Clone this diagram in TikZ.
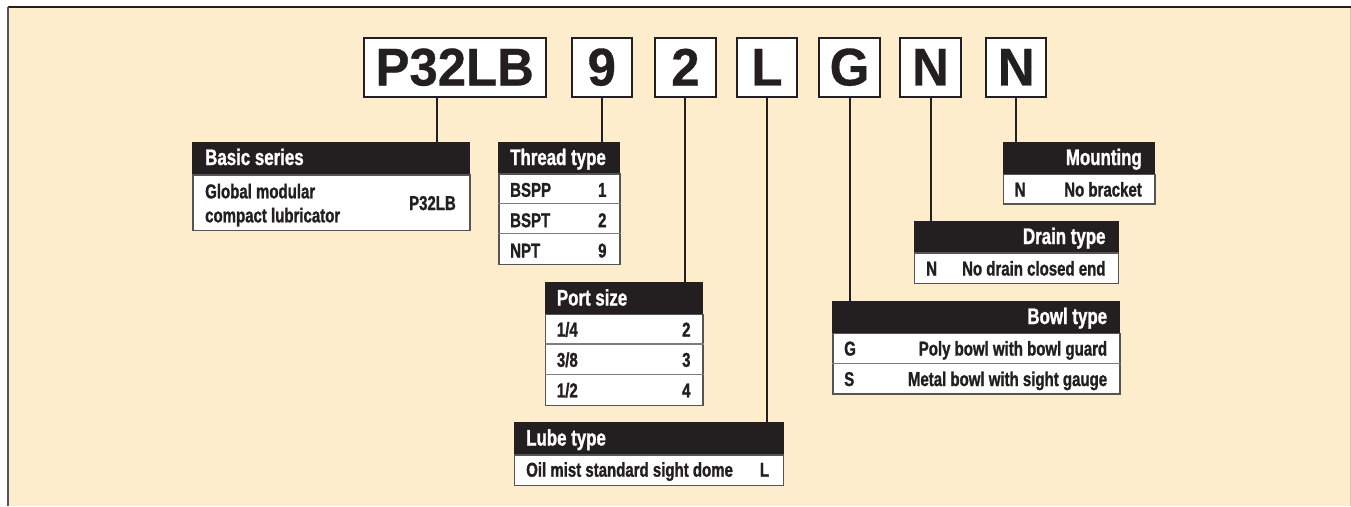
\documentclass[tikz,border=0pt]{standalone}
\usepackage{fontspec}
\setmainfont{Liberation Sans}
\newfontfamily\condfont[FakeStretch=0.75,FakeBold=1.2]{Liberation Sans}
\newfontfamily\codefont[FakeStretch=0.96,FakeBold=0.6]{Liberation Sans}
\definecolor{cream}{RGB}{254,237,205}
\definecolor{ink}{RGB}{35,31,32}
\definecolor{rulegray}{RGB}{125,125,125}
\definecolor{edgegray}{RGB}{85,85,85}
\definecolor{tanline}{RGB}{215,198,165}
\begin{document}
\begin{tikzpicture}[x=1pt,y=-1pt,
  codebox/.style={draw=ink,line width=2pt,fill=white,inner sep=0pt,minimum height=59pt,minimum width=60.5pt,font=\codefont\bfseries\fontsize{53}{60}\selectfont,text=ink},
  hdrbox/.style={fill=ink,draw=ink,line width=0.8pt,inner sep=0pt,anchor=north west},
  bodybox/.style={fill=white,draw=edgegray,line width=1.2pt,inner sep=0pt,anchor=north west},
  sepline/.style={draw=rulegray,line width=1.5pt},
  hdrtxt/.style={inner sep=0pt,text=white,font=\condfont\bfseries\fontsize{22.5}{26}\selectfont},
  bodytxt/.style={inner sep=0pt,text=ink,font=\condfont\bfseries\fontsize{20}{24}\selectfont},
  conn/.style={draw=ink,line width=2pt}
]
\useasboundingbox (0,0) rectangle (1351,506);
% background frame
\fill[cream] (8,7) rectangle (1351,506);
\draw[tanline,line width=1pt] (1350.5,7) -- (1350.5,506);
\draw[ink,line width=1.3pt] (8,7) -- (1351,7);
\draw[edgegray,line width=2pt] (8,7) -- (8,506);

% code boxes
\node[codebox,minimum width=182pt] (p32) at (454.7,67.2) {P32LB};
\node[codebox] (c9) at (601.8,67.2) {9};
\node[codebox] (c2) at (685.4,67.2) {2};
\node[codebox] (cL) at (767,67.2) {L};
\node[codebox] (cG) at (849.5,67.2) {G};
\node[codebox] (cNa) at (930.5,67.2) {N};
\node[codebox] (cNb) at (1016.2,67.2) {N};

% Basic series
\node[hdrbox,minimum width=277pt,minimum height=32.6pt] (basic) at (192.3,141.7) {};
\node[bodybox,minimum width=277pt,minimum height=55.7pt] (basicB) at (192.3,174.3) {};
\node[hdrtxt,anchor=base west] (basicT) at (205,165) {Basic series};
\node[bodytxt,anchor=base west] (basic1) at (205,198.3) {Global modular};
\node[bodytxt,anchor=base west] (basic2) at (205,222.3) {compact lubricator};
\node[bodytxt,anchor=base east] (basic3) at (456,210) {P32LB};

% Thread type
\node[hdrbox,minimum width=121pt,minimum height=31.6pt] (thread) at (498.3,141.7) {};
\node[bodybox,minimum width=121pt,minimum height=90.7pt] (threadB) at (498.3,173.3) {};
\draw[sepline] (threadB.west |- 0,203.3) -- (threadB.east |- 0,203.3);
\draw[sepline] (threadB.west |- 0,233.7) -- (threadB.east |- 0,233.7);
\node[hdrtxt,anchor=base west] (threadT) at (510,165) {Thread type};
\node[bodytxt,anchor=base west] (th1a) at (510,196.8) {BSPP};
\node[bodytxt,anchor=base east] (th1b) at (606.7,196.8) {1};
\node[bodytxt,anchor=base west] (th2a) at (510,227.2) {BSPT};
\node[bodytxt,anchor=base east] (th2b) at (606.7,227.2) {2};
\node[bodytxt,anchor=base west] (th3a) at (510,257.5) {NPT};
\node[bodytxt,anchor=base east] (th3b) at (606.7,257.5) {9};

% Port size
\node[hdrbox,minimum width=157.3pt,minimum height=32.3pt] (port) at (545,281.7) {};
\node[bodybox,minimum width=157.3pt,minimum height=91pt] (portB) at (545,314) {};
\draw[sepline] (portB.west |- 0,344) -- (portB.east |- 0,344);
\draw[sepline] (portB.west |- 0,374.3) -- (portB.east |- 0,374.3);
\node[hdrtxt,anchor=base west] (portT) at (556.7,305.5) {Port size};
\node[bodytxt,anchor=base west] (po1a) at (556.7,336.5) {1/4};
\node[bodytxt,anchor=base east] (po1b) at (690.7,336.5) {2};
\node[bodytxt,anchor=base west] (po2a) at (556.7,366.8) {3/8};
\node[bodytxt,anchor=base east] (po2b) at (690.7,366.8) {3};
\node[bodytxt,anchor=base west] (po3a) at (556.7,397.3) {1/2};
\node[bodytxt,anchor=base east] (po3b) at (690.7,397.3) {4};

% Lube type
\node[hdrbox,minimum width=268.7pt,minimum height=32pt] (lube) at (514,422.3) {};
\node[bodybox,minimum width=268.7pt,minimum height=30.7pt] (lubeB) at (514,454.3) {};
\node[hdrtxt,anchor=base west] (lubeT) at (526,445.5) {Lube type};
\node[bodytxt,anchor=base west] (lu1a) at (526,476.7) {Oil mist standard sight dome};
\node[bodytxt,anchor=base east] (lu1b) at (769.3,476.7) {L};

% Mounting
\node[hdrbox,minimum width=151.6pt,minimum height=32.3pt] (mount) at (1002.7,141.7) {};
\node[bodybox,minimum width=151.6pt,minimum height=29.3pt] (mountB) at (1002.7,174) {};
\node[hdrtxt,anchor=base east] (mountT) at (1142,165) {Mounting};
\node[bodytxt,anchor=base west] (mo1a) at (1014.5,196.5) {N};
\node[bodytxt,anchor=base east] (mo1b) at (1142,196.5) {No bracket};

% Drain type
\node[hdrbox,minimum width=203.7pt,minimum height=31.6pt] (drain) at (914,220.7) {};
\node[bodybox,minimum width=203.7pt,minimum height=30.4pt] (drainB) at (914,252.3) {};
\node[hdrtxt,anchor=base east] (drainT) at (1105.7,244) {Drain type};
\node[bodytxt,anchor=base west] (dr1a) at (926,275.5) {N};
\node[bodytxt,anchor=base east] (dr1b) at (1105.7,275.5) {No drain closed end};

% Bowl type
\node[hdrbox,minimum width=287pt,minimum height=32pt] (bowl) at (832.3,300.7) {};
\node[bodybox,minimum width=287pt,minimum height=60.6pt] (bowlB) at (832.3,332.7) {};
\draw[sepline] (bowlB.west |- 0,363.3) -- (bowlB.east |- 0,363.3);
\node[hdrtxt,anchor=base east] (bowlT) at (1107.3,324) {Bowl type};
\node[bodytxt,anchor=base west] (bo1a) at (844,355.5) {G};
\node[bodytxt,anchor=base east] (bo1b) at (1107.3,355.5) {Poly bowl with bowl guard};
\node[bodytxt,anchor=base west] (bo2a) at (844,386) {S};
\node[bodytxt,anchor=base east] (bo2b) at (1107.3,386) {Metal bowl with sight gauge};

% connectors
\coordinate (p32out) at ([xshift=-18pt]p32.south);
\draw[conn] (p32out) -- (p32out |- basic.north);
\draw[conn] (c9.south) -- (c9.south |- thread.north);
\draw[conn] (c2.south) -- (c2.south |- port.north);
\draw[conn] (cL.south) -- (cL.south |- lube.north);
\draw[conn] (cG.south) -- (cG.south |- bowl.north);
\draw[conn] (cNa.south) -- (cNa.south |- drain.north);
\draw[conn] (cNb.south) -- (cNb.south |- mount.north);
\end{tikzpicture}
\end{document}
